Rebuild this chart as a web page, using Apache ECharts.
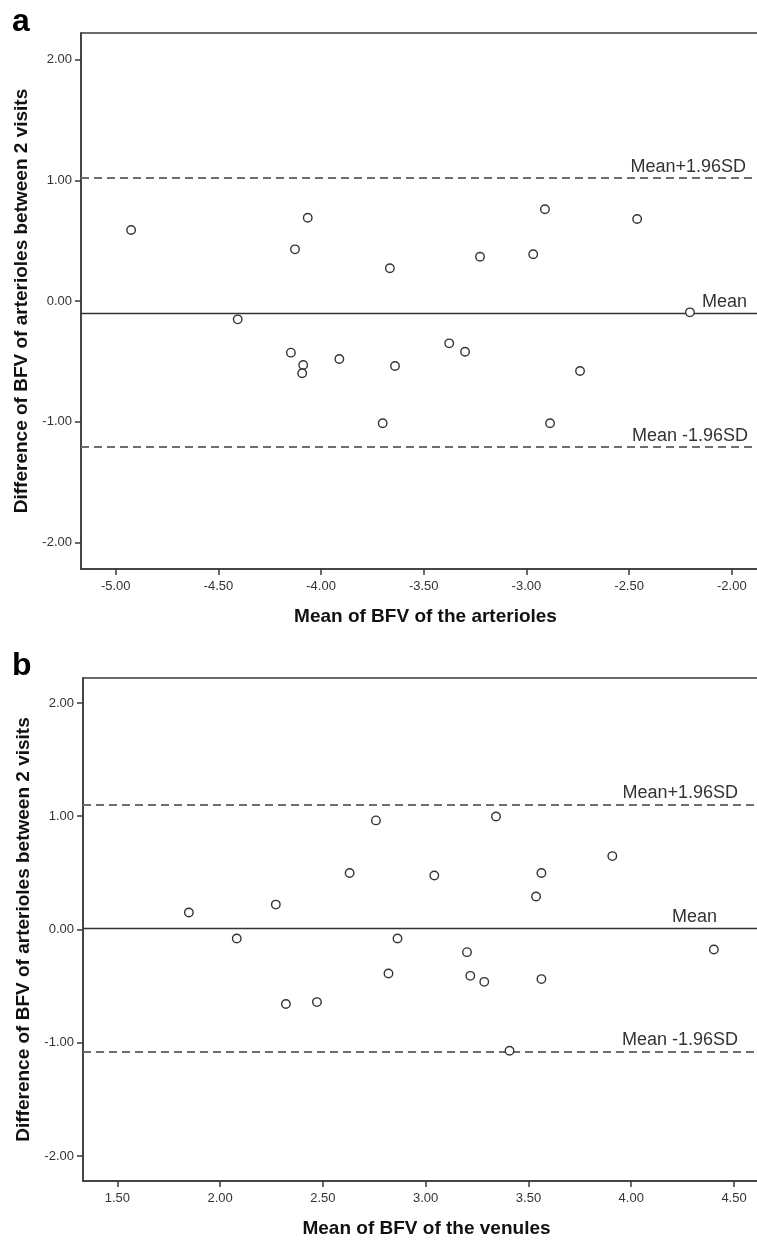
<!DOCTYPE html>
<html>
<head>
<meta charset="utf-8">
<script src="https://cdn.jsdelivr.net/npm/echarts@6/dist/echarts.min.js"></script>
<style>
  html, body { margin: 0; padding: 0; background: #fff; overflow: hidden; }
  #c { width: 757px; height: 1242px; }
</style>
</head>
<body>
<div id="c"></div>
<script>
// ---- Panel a: arterioles ----
const xA = [-4.925, -4.065, -4.127, -4.406, -4.147, -4.087, -4.092, -3.911, -3.700, -3.665,
            -3.640, -3.226, -3.376, -3.299, -2.967, -2.910, -2.885, -2.739, -2.461, -2.204];
const yA = [0.588, 0.690, 0.428, -0.152, -0.428, -0.530, -0.599, -0.481, -1.013, 0.271,
            -0.539, 0.367, -0.351, -0.420, 0.387, 0.760, -1.013, -0.580, 0.679, -0.094];
const limitsA = [1.017, -0.097, -1.213];

// ---- Panel b: venules ----
const xB = [1.848, 2.081, 2.271, 2.630, 2.758, 3.342, 3.042, 3.563, 3.537, 3.908,
            2.863, 2.320, 2.471, 2.819, 3.201, 3.217, 3.285, 3.563, 3.408, 4.402];
const yB = [0.150, -0.079, 0.220, 0.499, 0.963, 0.998, 0.476, 0.499, 0.291, 0.648,
            -0.079, -0.658, -0.641, -0.388, -0.200, -0.409, -0.462, -0.438, -1.070, -0.176];
const limitsB = [1.104, 0.010, -1.084];

const limitLabels = ['Mean+1.96SD', 'Mean', 'Mean -1.96SD'];
const xTicksA = [-5.0, -4.5, -4.0, -3.5, -3.0, -2.5, -2.0];
const xTicksB = [1.5, 2.0, 2.5, 3.0, 3.5, 4.0, 4.5];
const yTicks = [-2.0, -1.0, 0.0, 1.0, 2.0];
const xTitles = ['Mean of BFV of the arterioles', 'Mean of BFV of the venules'];
const yTitle = 'Difference of BFV of arterioles between 2 visits';
const panelLetters = ['a', 'b'];

const FONT = 'Liberation Sans, Arial, sans-serif';
const AX = '#3a3a3a';

function pairs(xs, ys) { return xs.map((x, i) => [x, ys[i]]); }

function xAxisCfg(gi, min, max, ticks, title) {
  return {
    gridIndex: gi, type: 'value', min: min, max: max, position: 'bottom',
    axisLine: { show: true, onZero: false, lineStyle: { color: AX, width: 1.5 } },
    axisTick: { show: true, length: 6, customValues: ticks, lineStyle: { color: AX, width: 1.5 } },
    axisLabel: { customValues: ticks, formatter: v => v.toFixed(2), margin: 11,
                 color: '#333', fontFamily: FONT, fontSize: 13 },
    splitLine: { show: false },
    name: title, nameLocation: 'middle', nameGap: 38,
    nameTextStyle: { color: '#111', fontFamily: FONT, fontSize: 19, fontWeight: 'bold' }
  };
}
function yAxisCfg(gi) {
  return {
    gridIndex: gi, type: 'value', min: -2.22, max: 2.22, position: 'left',
    axisLine: { show: true, onZero: false, lineStyle: { color: AX, width: 1.5 } },
    axisTick: { show: true, length: 6, customValues: yTicks, lineStyle: { color: AX, width: 1.5 } },
    axisLabel: { customValues: yTicks, formatter: v => v.toFixed(2), margin: 9,
                 color: '#333', fontFamily: FONT, fontSize: 13 },
    splitLine: { show: false },
    name: yTitle, nameLocation: 'middle', nameGap: 44, nameRotate: 90,
    nameTextStyle: { color: '#111', fontFamily: FONT, fontSize: 19, fontWeight: 'bold' }
  };
}

function limitLines(limits, dists) {
  return limits.map((v, i) => ({
    yAxis: v,
    lineStyle: i === 1
      ? { color: '#333', width: 1.4, type: 'solid' }
      : { color: '#6e6e6e', width: 2, type: [8, 5] },
    label: {
      show: true, position: 'insideEndTop', formatter: limitLabels[i],
      distance: dists[i], color: '#333', fontFamily: FONT, fontSize: 18
    }
  }));
}

function lineSeries(gi, limits, dists) {
  return {
    type: 'line', xAxisIndex: gi, yAxisIndex: gi, data: [], z: 1, silent: true,
    markLine: { silent: true, symbol: ['none', 'none'], animation: false,
                data: limitLines(limits, dists) }
  };
}
function scatterSeries(gi, data) {
  return {
    type: 'scatter', xAxisIndex: gi, yAxisIndex: gi, data: data, z: 5,
    symbol: 'circle', symbolSize: 8.5,
    itemStyle: { color: '#fff', borderColor: '#333', borderWidth: 1.4, opacity: 1 }
  };
}

const chart = echarts.init(document.getElementById('c'));
chart.setOption({
  animation: false,
  backgroundColor: '#fff',
  grid: [
    { left: 81, top: 33, width: 689, height: 536, show: true, borderColor: AX, borderWidth: 1.5,
      outerBoundsMode: 'none', containLabel: false },
    { left: 83, top: 678, width: 687, height: 503, show: true, borderColor: AX, borderWidth: 1.5,
      outerBoundsMode: 'none', containLabel: false }
  ],
  xAxis: [
    xAxisCfg(0, -5.169, -1.814, xTicksA, xTitles[0]),
    xAxisCfg(1, 1.333, 4.675, xTicksB, xTitles[1])
  ],
  yAxis: [yAxisCfg(0), yAxisCfg(1)],
  series: [
    lineSeries(0, limitsA, [[24, 2], [23, 2], [22, 2]]),
    scatterSeries(0, pairs(xA, yA)),
    lineSeries(1, limitsB, [[32, 3], [53, 2], [32, 3]]),
    scatterSeries(1, pairs(xB, yB))
  ],
  graphic: [
    { type: 'text', left: 12, top: 6, style: { text: panelLetters[0], font: 'bold 32px ' + FONT, fill: '#000' } },
    { type: 'text', left: 12, top: 650, style: { text: panelLetters[1], font: 'bold 32px ' + FONT, fill: '#000' } }
  ]
});
</script>
</body>
</html>
